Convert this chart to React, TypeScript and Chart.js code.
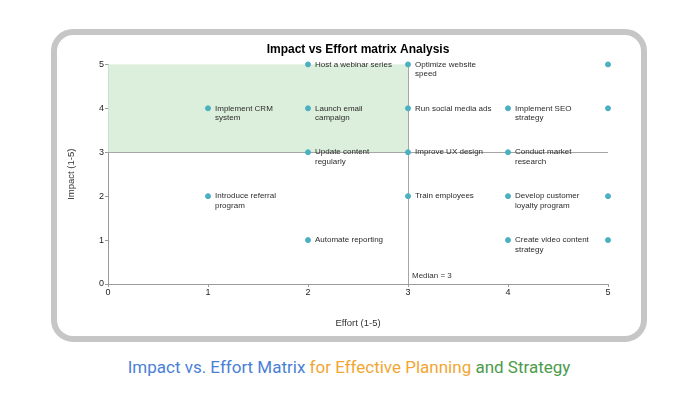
import { useEffect, useRef } from "react";
import { Chart, registerables } from "chart.js";

Chart.register(...registerables);

// effort (x) and impact (y) per task
const effort = [2, 3, 5, 1, 2, 3, 4, 5, 2, 3, 4, 1, 3, 4, 5, 2, 4, 5];
const impact = [5, 5, 5, 4, 4, 4, 4, 4, 3, 3, 3, 2, 2, 2, 2, 1, 1, 1];
const tasks = [
  "Host a webinar series",
  "Optimize website speed",
  "",
  "Implement CRM system",
  "Launch email campaign",
  "Run social media ads",
  "Implement SEO strategy",
  "",
  "Update content regularly",
  "Improve UX design",
  "Conduct market research",
  "Introduce referral program",
  "Train employees",
  "Develop customer loyalty program",
  "",
  "Automate reporting",
  "Create video content strategy",
  "",
];
const axisMin = 0;
const axisMax = 5;
const medianEffort = 3;
const medianImpact = 3;

const FONT = "Arial, 'Liberation Sans', sans-serif";

function wrap(ctx: CanvasRenderingContext2D, text: string, max: number) {
  const words = text.split(" ");
  const lines: string[] = [];
  let cur = "";
  for (const w of words) {
    const test = cur ? cur + " " + w : w;
    if (ctx.measureText(test).width > max && cur) {
      lines.push(cur);
      cur = w;
    } else cur = test;
  }
  if (cur) lines.push(cur);
  return lines;
}

const matrixPlugin = {
  id: "matrix",
  beforeDatasetsDraw(chart: any) {
    const { ctx, scales } = chart;
    const x = scales.x;
    const y = scales.y;
    ctx.save();
    // quick-win quadrant
    ctx.fillStyle = "rgba(214, 236, 214, 0.85)";
    const x0 = x.getPixelForValue(axisMin);
    const x1 = x.getPixelForValue(medianEffort);
    const y0 = y.getPixelForValue(axisMax);
    const y1 = y.getPixelForValue(medianImpact);
    ctx.fillRect(x0, y0, x1 - x0, y1 - y0);
    // median lines
    ctx.strokeStyle = "#a6a6a6";
    ctx.lineWidth = 1;
    ctx.beginPath();
    ctx.moveTo(x.getPixelForValue(axisMin), Math.round(y1) + 0.5);
    ctx.lineTo(x.getPixelForValue(axisMax), Math.round(y1) + 0.5);
    ctx.moveTo(Math.round(x1) + 0.5, y.getPixelForValue(axisMin));
    ctx.lineTo(Math.round(x1) + 0.5, y.getPixelForValue(axisMax));
    ctx.stroke();
    ctx.fillStyle = "#333";
    ctx.font = `8px ${FONT}`;
    ctx.textBaseline = "middle";
    ctx.fillText(`Median = ${medianEffort}`, x1 + 4, y.getPixelForValue(axisMin) - 8);
    ctx.restore();
  },
  afterDatasetsDraw(chart: any) {
    const { ctx, scales } = chart;
    ctx.save();
    ctx.font = `8px ${FONT}`;
    ctx.fillStyle = "#2b2b2b";
    ctx.textBaseline = "middle";
    tasks.forEach((t, i) => {
      if (!t) return;
      const px = scales.x.getPixelForValue(effort[i]);
      const py = scales.y.getPixelForValue(impact[i]);
      wrap(ctx, t, 77).forEach((line, k) => {
        ctx.fillText(line, px + 7, py + k * 9.5);
      });
    });
    ctx.restore();
  },
};

function MatrixChart() {
  const canvasRef = useRef<HTMLCanvasElement>(null);
  const chartRef = useRef<any>(null);

  useEffect(() => {
    if (!canvasRef.current) return;
    if (chartRef.current) chartRef.current.destroy();

    chartRef.current = new Chart(canvasRef.current, {
      type: "scatter",
      data: {
        datasets: [
          {
            label: "Tasks",
            data: effort.map((e, i) => ({ x: e, y: impact[i] })),
            backgroundColor: "#4bb1c1",
            borderColor: "#4bb1c1",
            pointRadius: 2.5,
            pointHoverRadius: 2.5,
            clip: false,
          },
        ],
      },
      options: {
        animation: false,
        responsive: true,
        maintainAspectRatio: false,
        layout: { padding: { left: 5, right: 33, top: 0, bottom: 3 } },
        scales: {
          x: {
            type: "linear",
            min: axisMin,
            max: axisMax,
            afterFit: (s: any) => {
              s.height = 49;
            },
            ticks: { stepSize: 1, color: "#222", padding: 0, font: { size: 9, family: FONT } },
            grid: { drawOnChartArea: false, color: "#9a9a9a", tickLength: 3 },
            border: { color: "#9a9a9a" },
            title: {
              display: true,
              text: "Effort (1-5)",
              color: "#333",
              font: { size: 9.5, family: FONT },
            },
          },
          y: {
            type: "linear",
            min: axisMin,
            max: axisMax,
            afterFit: (s: any) => {
              s.width = 46;
            },
            ticks: { stepSize: 1, color: "#222", padding: 1, font: { size: 9, family: FONT } },
            grid: { drawOnChartArea: false, color: "#9a9a9a", tickLength: 3 },
            border: { color: "#9a9a9a" },
            title: {
              display: true,
              text: "Impact (1-5)",
              color: "#333",
              font: { size: 9.5, family: FONT },
            },
          },
        },
        plugins: {
          legend: { display: false },
          tooltip: { enabled: false },
          title: {
            display: true,
            fullSize: false,
            text: "Impact vs Effort matrix Analysis",
            color: "#000",
            font: { size: 12, weight: "bold", family: FONT },
            padding: { top: 7, bottom: 8 },
          },
        },
      },
      plugins: [matrixPlugin],
    });

    return () => chartRef.current?.destroy();
  }, []);

  return (
    <div style={{ position: "absolute", left: 57, top: 35, width: 584, height: 301 }}>
      <canvas ref={canvasRef} />
    </div>
  );
}

export default function App() {
  return (
    <div style={{ position: "fixed", left: 0, top: 0, width: 698, height: 400, background: "#fff" }}>
      <div
        style={{
          position: "absolute",
          left: 51,
          top: 29,
          width: 584,
          height: 301,
          border: "6px solid #c6c6c6",
          borderRadius: 22,
          background: "#fff",
        }}
      />
      <MatrixChart />
      <div
        style={{
          position: "absolute",
          left: 0,
          width: 698,
          top: 356,
          textAlign: "center",
          fontFamily: "Roboto, sans-serif",
          fontSize: 17,
          lineHeight: "22px",
        }}
      >
        <span style={{ color: "#4a7fd6" }}>Impact vs. Effort Matrix </span>
        <span style={{ color: "#f0a733" }}>for Effective Planning </span>
        <span style={{ color: "#4b9b4b" }}>and Strategy</span>
      </div>
    </div>
  );
}
